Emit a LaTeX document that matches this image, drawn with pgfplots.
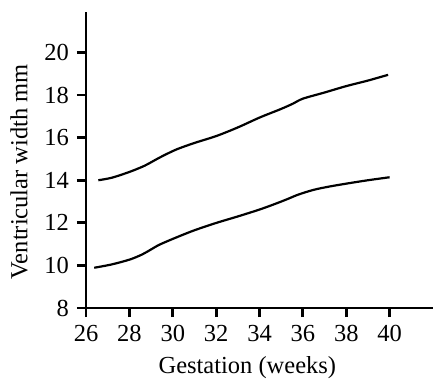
\documentclass[border=0pt]{standalone}
\usepackage{fontspec}
\setmainfont{Liberation Serif}
\usepackage{pgfplots}
\pgfplotsset{compat=1.18}
\begin{document}
\fontsize{24}{28}\selectfont
\begin{tikzpicture}
\useasboundingbox (-86pt,-70pt) rectangle (349pt,308pt);
\begin{axis}[
  at={(0,0)}, anchor=south west,
  scale only axis, width=347pt, height=296pt,
  xmin=26, xmax=42, ymin=8, ymax=21.9,
  axis lines=left,
  axis line style={-, line width=2.8pt, black},
  xtick={26,28,...,40}, ytick={8,10,...,20},
  tick align=outside, major tick length=9pt,
  every tick/.style={line width=2.8pt, black},
  /pgf/number format/assume math mode=true,
  ticklabel style={font=\fontsize{24.5}{28}\selectfont},
  label style={font=\fontsize{24.5}{28}\selectfont},
  xlabel={Gestation (weeks)}, ylabel={Ventricular width mm},
  xlabel style={at={(axis description cs:0.465,-0.22)}, anchor=base},
  ylabel style={at={(axis description cs:-0.193,0.461)}, anchor=center},
  clip=false,
]
\addplot[black, line width=2.2pt, smooth] coordinates {
(26.57,14.0) (27.2,14.12) (28.03,14.40) (28.7,14.68) (29.1,14.90) (29.5,15.12) (30.18,15.45) (31.0,15.75) (32.02,16.08) (33.0,16.48) (34.02,16.95) (35.0,17.35) (35.55,17.60) (36.0,17.83) (37.0,18.12) (38.0,18.42) (39.0,18.68) (39.93,18.95)
};
\addplot[black, line width=2.2pt, smooth] coordinates {
(26.38,9.89) (27.2,10.05) (28.03,10.28) (28.6,10.52) (29.0,10.75) (29.4,10.98) (30.18,11.32) (31.0,11.65) (32.02,12.0) (33.0,12.30) (34.02,12.63) (34.8,12.92) (35.3,13.12) (35.8,13.33) (36.5,13.55) (37.2,13.70) (38.0,13.84) (39.0,14.0) (40.0,14.14)
};
\end{axis}
\end{tikzpicture}
\end{document}
